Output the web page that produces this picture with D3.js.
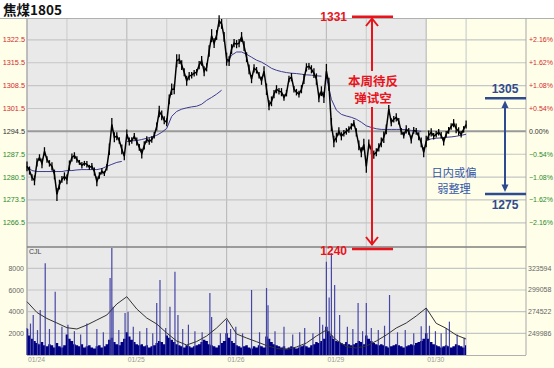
<!DOCTYPE html>
<html><head><meta charset="utf-8">
<script src="https://cdn.jsdelivr.net/npm/d3@7"></script>
<style>body{margin:0;background:#fff}svg{display:block}</style>
</head><body>
<svg id="chart" width="554" height="368"></svg>
<script>
// ---------------- DATA ----------------
const title = "焦煤1805";
const dayLabels = ["01/24", "01/25", "01/26", "01/29", "01/30"];
const dayStartSlots = [0, 40, 80, 120, 160];       // night session opens
const daySessionSlots = [16, 56, 96, 136, 176];    // day session opens
const totalSlots = 200;
const prevSettle = 1294.5;
const priceTicks = [1266.5, 1273.5, 1280.5, 1287.5, 1294.5, 1301.5, 1308.5, 1315.5, 1322.5];
const volTicks = [2000, 4000, 6000, 8000];
const oiTicks = [249986, 274522, 299058, 323594];

// close price per slot
const prices = [
 1283.8,1282.5,1280.4,1279.5,1285.0,1286.5,1284.7,1288.4,1285.9,1284.7,
 1283.8,1281.3,1275.2,1278.2,1279.8,1280.7,1279.8,1284.1,1286.5,1287.1,
 1285.9,1285.0,1284.1,1284.7,1284.4,1283.5,1283.8,1282.2,1279.2,1281.0,
 1282.3,1281.6,1283.5,1289.0,1296.6,1292.7,1293.0,1291.7,1289.0,1286.9,
 1293.6,1291.4,1291.7,1293.0,1291.4,1289.6,1287.7,1290.2,1292.0,1291.4,
 1292.0,1293.3,1296.0,1300.6,1299.4,1297.9,1297.3,1304.3,1307.4,1307.4,
 1316.1,1316.6,1314.8,1312.6,1310.0,1311.4,1311.7,1312.3,1312.6,1314.8,
 1316.1,1312.9,1314.1,1319.1,1323.8,1321.5,1324.0,1328.3,1327.4,1323.4,
 1316.6,1316.0,1319.7,1321.5,1321.2,1321.5,1323.4,1320.6,1317.2,1313.5,
 1310.5,1313.8,1313.2,1311.7,1310.0,1312.9,1307.4,1302.5,1303.7,1305.9,
 1307.4,1306.8,1306.5,1304.9,1306.2,1310.5,1311.1,1307.4,1306.5,1305.9,
 1307.4,1310.5,1314.1,1314.4,1313.5,1312.3,1310.5,1304.9,1306.8,1304.9,
 1312.9,1308.9,1296.6,1291.4,1292.6,1294.5,1293.0,1293.9,1294.5,1295.1,
 1296.0,1297.0,1294.2,1290.2,1288.1,1290.5,1283.8,1290.5,1289.0,1287.4,
 1288.1,1289.6,1291.1,1292.7,1295.1,1301.3,1297.3,1298.2,1298.8,1297.6,
 1294.5,1293.3,1295.1,1294.5,1292.0,1294.8,1294.5,1293.0,1291.1,1288.1,
 1291.4,1293.3,1294.2,1293.0,1293.6,1294.2,1293.3,1291.4,1293.6,1294.8,
 1296.0,1297.0,1295.4,1294.5,1293.6,1295.1,1296.6
];
// trading range (high - low) within each slot
const priceRanges = [
 3,2.5,2,3,2.5,2,3,2.5,2,2, 2.5,3,4,3,2,2.5,3,3,2.5,2, 2,1.5,2,1.5,2,1.5,2,2.5,3,2, 2,1.5,2,3.5,4,3,2.5,2,3,2.5,
 3,2.5,2,2,2.5,2,3,2.5,2,2, 2,2,2.5,3.5,3,2.5,2.5,3,3.5,3, 4,3,3,2.5,3,2.5,2,2,2,2.5, 3,3,2.5,3.5,4,3,3,3.5,3,3,
 4,3,3,2.5,2.5,2.5,3,3,3,3, 2.5,2.5,2,2,2.5,3, 3.5,3,3,2.5,2.5,2,2.5,2,2,2, 2.5,2,2,2,2.5,3,2.5,2,2.5,3,3.5,3,3,3.5,
 4.5,4,4,3.5,3,2.5,2.5,2,2,2, 2,2,2.5,3,3,3.5, 4,3,3,2.5,2.5,2.5,3,3.5,3,2.5,2.5,2,2.5,2, 2,2,2.5,2,2.5,2,2,2.5,3,3,
 3.5,3,2.5,2,2,2,2,2.5,2,2,2,2.5,3,2.5,2,2,2.5
];

// average price line, one value every 2 slots
const avgPrices = [
 1283.8,1282.5,1282.2,1282.2,1282.2,1282.2,1282.2,1282.2,1282.5,1282.5,
 1282.7,1282.8,1282.8,1282.8,1282.8,1283.1,1283.8,1284.4,1285.0,1285.3,
 1291.4,1291.6,1291.7,1292.0,1292.4,1292.8,1293.3,1294.2,1295.4,1299.1,
 1300.6,1301.3,1301.7,1302.0,1302.2,1302.8,1304.0,1304.9,1305.9,1307.1,
 1315.4,1317.8,1318.8,1318.8,1318.1,1317.2,1316.3,1315.7,1314.8,1313.8,
 1313.2,1312.8,1312.5,1312.3,1312.2,1312.0,1311.8,1311.7,1311.5,1311.4,
 1311.1,1304.3,1301.0,1299.7,1299.2,1298.8,1298.2,1297.3,1296.2,1295.7,
 1295.3,1295.1,1295.1,1295.1,1295.1,1295.1,1295.0,1294.8,1294.7,1294.5,
 1291.7,1292.2,1292.4,1292.5,1292.7,1292.8,1293.0,1293.3,1293.6
];

// volume (CJL) per slot
const volBase = [
 2400,1800,1500,1300,1100,1000,1200,900,800,1000,900,700,1100,800,700,900,
 1900,1500,1300,1000,900,800,1000,700,800,900,700,600,800,900,700,800,1000,1400,1600,1200,1000,900,1200,1500,
 2100,1700,1400,1200,1000,900,1000,800,900,700,800,900,1100,1300,1200,1000,
 1800,1600,1400,1200,1000,900,800,700,900,800,700,800,900,1000,1200,1400,1300,1000,900,800,700,900,1100,1300,
 2000,1600,1300,1100,900,800,700,800,900,700,600,800,700,900,800,700,
 1700,1500,1200,1000,900,800,700,800,600,700,800,700,600,700,800,900,800,700,900,1000,1200,1100,1300,1500,
 2600,2200,1800,1500,1300,1200,1100,1000,1200,1000,900,1000,1100,1300,1200,1000,
 1800,1500,1300,1100,1000,900,1000,900,800,700,800,900,1000,900,800,700,800,900,1000,900,1100,1200,1300,1500,
 2000,1500,1200,1000,900,800,700,800,900,800,700,800,1000,900,800,700,900
];
// volume spikes (slot position, volume)
const spikeSlots = [0,1.4,2.5,4.2,5.3,7.3,9,11.3,14,16.4,19,21.5,24,28,30.6,33.3,34,34.5,36.8,39.3,40.5,42.6,45.2,48,50.4,52,53.3,55.6,57.3,59.3,60.5,62.4,64.7,67.3,70.2,73.3,74,77.5,80,81.6,83.7,86.4,90,93.2,96,96.6,99.4,103,106.5,109.3,111.3,114.6,117.3,118.5,120,121.1,122,123.3,125.3,128.4,130.6,132.7,134.5,136,138,140.8,143.3,145.3,148.5,151.6,155,158,160,161.3,163.7,166,168,169.3,172.4,175.2];
const spikeVols  = [2500,2900,3700,2300,4150,8460,2400,5840,2600,2800,2200,1900,2900,2400,2100,7100,9870,4460,2300,3870,4000,2600,2200,2500,2000,4800,6920,2500,4460,7690,3700,2400,2800,2200,2100,5720,3500,2000,3230,2400,2600,2000,6000,2100,6180,4600,2200,2600,1900,2100,2500,2000,3500,2800,8610,5300,9400,6460,3700,2600,2400,4800,2200,4800,2500,2300,2700,5540,2100,2300,2000,2650,4340,2700,2200,2000,2500,3080,1900,1600];

// open interest, one value every 4 slots
const openInterest = [
 285802,273573,266779,261684,256362,254890,259419,265081,270742,283197,
 291463,277536,267345,260551,250361,241302,236773,240736,246964,256022,
 267005,249228,244699,240510,236207,232810,231678,234508,239038,246964,
 253758,242435,234848,233376,235641,241302,248096,256022,261684,269610,
 278668,261344,255682,248096,243567
];

// ---------------- DRAW ----------------
const svg = d3.select("#chart");
const W = 554, H = 368;
const L = 27, R = 526;
const pTop = 19, pBot = 247, vTop = 247, vBot = 355;

const x = d3.scaleLinear().domain([0, totalSlots]).range([L, R]);
const y = d3.scaleLinear().domain([1259.1, 1328.9]).range([pBot, pTop]);
const yv = d3.scaleLinear().domain([0, 9970]).range([vBot, vTop]);
const yoi = d3.scaleLinear().domain([225450, 347738]).range([vBot, vTop]);

const cream = "#fefee9", gray = "#e9e9e9";
svg.append("rect").attr("width", W).attr("height", H).attr("fill", "#fff");
svg.append("rect").attr("x", 0).attr("y", 18).attr("width", W).attr("height", H - 18).attr("fill", cream);
svg.append("rect").attr("x", L).attr("y", pTop).attr("width", x(160) - L).attr("height", vBot - pTop).attr("fill", gray);

// title
svg.append("text").attr("x", 3).attr("y", 14.5).text(title)
  .attr("font-family", "'Noto Sans CJK SC', sans-serif").attr("font-weight", "bold")
  .attr("font-size", 13.5).attr("fill", "#111");
svg.append("line").attr("x1", 0).attr("x2", W).attr("y1", 18.5).attr("y2", 18.5).attr("stroke", "#b0b0b0");

// vertical grid
const vlines = [];
dayStartSlots.forEach(s => vlines.push({s, major: true}));
daySessionSlots.forEach(s => { if (s < totalSlots) vlines.push({s, major: false}); });
svg.append("g").selectAll("line").data(vlines).join("line")
  .attr("x1", d => x(d.s)).attr("x2", d => x(d.s))
  .attr("y1", pTop).attr("y2", vBot)
  .attr("stroke", d => d.major ? "#bdbdbd" : "#d0d0d0").attr("stroke-width", 1.2);

// horizontal price grid
svg.append("g").selectAll("line").data(priceTicks).join("line")
  .attr("x1", L).attr("x2", R).attr("y1", d => y(d)).attr("y2", d => y(d))
  .attr("stroke", d => d === prevSettle ? "#9a9a9a" : "#c6c6c6")
  .attr("stroke-width", d => d === prevSettle ? 2 : 1.2);

// volume grid
svg.append("g").selectAll("line").data(volTicks).join("line")
  .attr("x1", L).attr("x2", R).attr("y1", d => yv(d)).attr("y2", d => yv(d))
  .attr("stroke", "#c6c6c6").attr("stroke-width", 1.2);

// frame
svg.append("line").attr("x1", L).attr("x2", L).attr("y1", 18).attr("y2", vBot).attr("stroke", "#a8a8a8");
svg.append("line").attr("x1", R).attr("x2", R).attr("y1", 18).attr("y2", vBot).attr("stroke", "#a8a8a8");
svg.append("line").attr("x1", L).attr("x2", R).attr("y1", pBot).attr("y2", pBot).attr("stroke", "#808080").attr("stroke-width", 1.6);
svg.append("line").attr("x1", L).attr("x2", R).attr("y1", vBot + 0.5).attr("y2", vBot + 0.5).attr("stroke", "#b0b0b0");

// price axis labels
const pctFmt = d3.format(".2f");
const lblFont = "'Liberation Sans', Arial, sans-serif";
const colorFor = t => t > prevSettle ? "#d42a2a" : (t < prevSettle ? "#2a8a2a" : "#333");
svg.append("g").selectAll("text").data(priceTicks).join("text")
  .attr("x", 25).attr("y", d => y(d) + 2.5).attr("text-anchor", "end")
  .attr("font-family", lblFont).attr("font-size", 7.3).attr("fill", colorFor)
  .text(d => d.toFixed(1));
svg.append("g").selectAll("text").data(priceTicks).join("text")
  .attr("x", 529).attr("y", d => y(d) + 2.5)
  .attr("font-family", lblFont).attr("font-size", 7).attr("fill", colorFor)
  .text(d => { const p = (d - prevSettle) / prevSettle * 100; return (p > 0 ? "+" : "") + pctFmt(p) + "%"; });

// volume axis labels
svg.append("g").selectAll("text").data(volTicks).join("text")
  .attr("x", 24).attr("y", d => yv(d) + 2.5).attr("text-anchor", "end")
  .attr("font-family", lblFont).attr("font-size", 7).attr("fill", "#666").text(d => d);
svg.append("g").selectAll("text").data(oiTicks).join("text")
  .attr("x", 528).attr("y", d => yoi(d) + 2.5)
  .attr("font-family", lblFont).attr("font-size", 7).attr("fill", "#666").text(d => d);
svg.append("text").attr("x", 29).attr("y", 254).text("CJL")
  .attr("font-family", lblFont).attr("font-size", 7).attr("fill", "#444");

// date labels
svg.append("g").selectAll("text").data(dayLabels).join("text")
  .attr("x", (d, i) => x(dayStartSlots[i]) + 1).attr("y", 362)
  .attr("font-family", lblFont).attr("font-size", 6.8).attr("fill", "#999").text(d => d);

// volume mass
const volArea = d3.area().curve(d3.curveStep)
  .x((d, i) => x(i)).y0(yv(0)).y1(d => yv(d));
svg.append("path").datum(volBase).attr("d", volArea).attr("fill", "#000080");
// spikes
svg.append("g").selectAll("line").data(spikeSlots).join("line")
  .attr("x1", d => x(d)).attr("x2", d => x(d))
  .attr("y1", yv(0)).attr("y2", (d, i) => yv(spikeVols[i]))
  .attr("stroke", "#4646a6").attr("stroke-width", 1.2);

// open interest line
const oiLine = d3.line().x((d, i) => x(i * 4)).y(d => yoi(d));
svg.append("path").datum(openInterest).attr("d", oiLine).attr("fill", "none")
  .attr("stroke", "#333").attr("stroke-width", 1);

// average price line (resets each trading day)
const avgPts = avgPrices.map((v, k) => ({s: k * 2, v}));
const avgByDay = d3.groups(avgPts, d => Math.floor(d.s / 40)).map(g => g[1]);
const avgLine = d3.line().x(d => x(d.s)).y(d => y(d.v));
svg.append("g").selectAll("path").data(avgByDay).join("path")
  .attr("d", avgLine).attr("fill", "none").attr("stroke", "#3b3b8f").attr("stroke-width", 1);

// price: per-slot range ticks + close line
svg.append("g").selectAll("line").data(prices).join("line")
  .attr("x1", (d, i) => x(i)).attr("x2", (d, i) => x(i))
  .attr("y1", (d, i) => y(d + priceRanges[i] / 2)).attr("y2", (d, i) => y(d - priceRanges[i] / 2))
  .attr("stroke", "#000").attr("stroke-width", 1.3);
const priceLine = d3.line().x((d, i) => x(i)).y(d => y(d));
svg.append("path").datum(prices).attr("d", priceLine).attr("fill", "none")
  .attr("stroke", "#000").attr("stroke-width", 1.5);

// ---------------- ANNOTATIONS ----------------
const red = "#e8141c";
const numFont = "'Liberation Sans', Arial, sans-serif";
const cjk = "'Noto Sans CJK SC', sans-serif";
const ann = svg.append("g");
ann.append("text").attr("x", 347).attr("y", 21).attr("text-anchor", "end").text("1331")
  .attr("font-family", numFont).attr("font-weight", "bold").attr("font-size", 12).attr("fill", red);
ann.append("line").attr("x1", 352).attr("x2", 393).attr("y1", 16.7).attr("y2", 16.7).attr("stroke", red).attr("stroke-width", 2.5);
ann.append("line").attr("x1", 372).attr("x2", 372).attr("y1", 18).attr("y2", 71).attr("stroke", red).attr("stroke-width", 2);
ann.append("polyline").attr("points", "366,26 372,18.5 378,26").attr("fill", "none").attr("stroke", red).attr("stroke-width", 2);
ann.append("text").attr("x", 373).attr("y", 85.5).attr("text-anchor", "middle").text("本周待反")
  .attr("font-family", cjk).attr("font-weight", "bold").attr("font-size", 12.5).attr("fill", red);
ann.append("text").attr("x", 373).attr("y", 103).attr("text-anchor", "middle").text("弹试空")
  .attr("font-family", cjk).attr("font-weight", "bold").attr("font-size", 12.5).attr("fill", red);
ann.append("line").attr("x1", 372).attr("x2", 372).attr("y1", 107).attr("y2", 245).attr("stroke", red).attr("stroke-width", 2);
ann.append("polyline").attr("points", "366,237 372,244.5 378,237").attr("fill", "none").attr("stroke", red).attr("stroke-width", 2);
ann.append("line").attr("x1", 352).attr("x2", 393).attr("y1", 249).attr("y2", 249).attr("stroke", red).attr("stroke-width", 2.5);
ann.append("text").attr("x", 347).attr("y", 254.5).attr("text-anchor", "end").text("1240")
  .attr("font-family", numFont).attr("font-weight", "bold").attr("font-size", 12).attr("fill", red);

const blue = "#2f4b8f", blueTxt = "#3557a8";
ann.append("text").attr("x", 505).attr("y", 92.5).attr("text-anchor", "middle").text("1305")
  .attr("font-family", numFont).attr("font-weight", "bold").attr("font-size", 12).attr("fill", blue);
ann.append("line").attr("x1", 485).attr("x2", 526).attr("y1", 98.3).attr("y2", 98.3).attr("stroke", blue).attr("stroke-width", 2.5);
ann.append("line").attr("x1", 505).attr("x2", 505).attr("y1", 104).attr("y2", 189).attr("stroke", blue).attr("stroke-width", 2);
ann.append("path").attr("d", "M505,100.5 L501.5,108 L508.5,108 Z").attr("fill", blue);
ann.append("path").attr("d", "M505,192 L501.5,184.5 L508.5,184.5 Z").attr("fill", blue);
ann.append("line").attr("x1", 485).attr("x2", 526).attr("y1", 194).attr("y2", 194).attr("stroke", blue).attr("stroke-width", 2.5);
ann.append("text").attr("x", 505).attr("y", 208.5).attr("text-anchor", "middle").text("1275")
  .attr("font-family", numFont).attr("font-weight", "bold").attr("font-size", 12).attr("fill", blue);
ann.append("text").attr("x", 454).attr("y", 177).attr("text-anchor", "middle").text("日内或偏")
  .attr("font-family", cjk).attr("font-size", 11.2).attr("fill", blueTxt);
ann.append("text").attr("x", 454).attr("y", 193.4).attr("text-anchor", "middle").text("弱整理")
  .attr("font-family", cjk).attr("font-size", 11.2).attr("fill", blueTxt);
</script>
</body></html>
